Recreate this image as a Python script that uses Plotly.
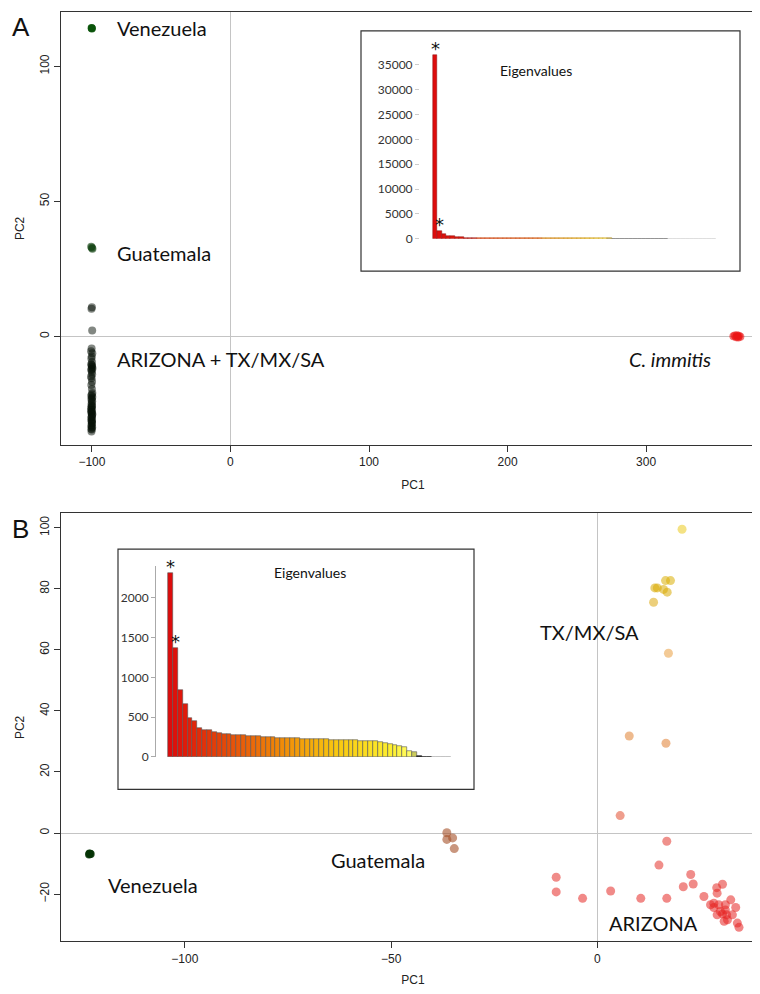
import plotly.graph_objects as go

# ---------------- Panel A data ----------------
a_ven_pc1 = [-100.0, -100.2]
a_ven_pc2 = [114.0, 114.2]
a_gua_pc1 = [-100.5, -99.6, -100.0]
a_gua_pc2 = [33.2, 32.4, 32.8]
a_ari_pc1 = [-100.0, -100.3, -99.8, -100.2, -100.6, -99.7, -100.1, -100.4, -99.9, -100.5,
             -100.0, -99.6, -100.3, -100.1, -99.8, -100.6, -100.2, -99.9, -100.4, -100.0,
             -99.7, -100.5, -100.1, -99.8, -100.3, -100.0, -100.6, -99.9, -100.2, -100.4,
             -99.7, -100.1, -100.5, -99.9, -100.2, -100.0, -100.4, -99.8, -100.1, -100.3,
             -100.2, -99.8, -100.4, -100.0, -99.7, -100.3, -100.1, -99.9, -100.5, -100.2,
             -99.8, -100.0, -100.3, -99.9, -100.1, -100.4]
a_ari_pc2 = [10.8, 10.2, 2.2, -4.5, -5.5, -6.3, -7.5, -8.2, -9.5, -10.3,
             -11.0, -11.9, -12.5, -13.1, -14.0, -14.9, -15.5, -16.8, -18.0, -19.5,
             -21.0, -22.0, -22.9, -24.0, -25.3, -26.0, -26.5, -27.0, -27.8, -28.3,
             -28.8, -29.5, -30.2, -31.0, -31.5, -32.3, -33.0, -33.8, -34.5, -35.2,
             -10.6, -11.4, -12.2, -21.5, -22.5, -23.5, -24.6, -25.8, -27.3, -28.0,
             -29.0, -30.0, -31.2, -32.0, -33.4, -34.2]
a_imm_pc1 = [363.0, 364.0, 365.0, 366.0, 367.0, 368.0, 365.5, 366.5]
a_imm_pc2 = [0.0, 0.3, -0.3, 0.0, 0.2, -0.2, 0.4, -0.4]

a_eig = [37000, 1500, 850, 600, 460, 340, 260, 210, 180, 160, 145, 135, 125, 118, 112, 106,
         100, 96, 92, 88, 85, 82, 79, 76, 73, 70, 68, 66, 64, 62, 60, 58, 56, 54, 52, 50,
         48, 46, 44, 42, 40, 6, 5, 5, 4, 4, 4, 3, 3, 3, 3, 2, 2, 2, 2, 2, 2, 1, 1, 1, 1, 1, 1, 1, 1]
a_yticks = [0, 5000, 10000, 15000, 20000, 25000, 30000, 35000]
a_yticktext = ["0", "5000", "10000", "15000", "20000", "25000", "30000", "35000"]

# ---------------- Panel B data ----------------
b_ven_pc1 = [-123.0, -123.2, -122.8, -123.1]
b_ven_pc2 = [-6.8, -7.0, -6.9, -6.7]
b_gua_pc1 = [-36.5, -36.5, -35.1, -34.7]
b_gua_pc2 = [0.1, -2.1, -1.6, -5.1]
b_tx_pc1 = [20.5, 17.7, 16.5, 13.9, 14.5, 16.0, 16.9, 13.6, 17.2, 7.7, 16.6, 5.5, 16.8]
b_tx_pc2 = [99.5, 82.7, 82.7, 80.3, 80.3, 79.8, 78.9, 75.6, 58.9, 31.8, 29.4, 5.7, -2.7]
b_az_pc1 = [14.9, 22.6, 20.8, 23.2, -3.6, 3.2, 10.5, 16.8, 25.8, 28.9, 30.3, 29.0, 27.4, 28.2,
            29.4, 29.8, 31.0, 32.3, 33.5, 32.7, 31.5, 30.3, 29.0, 30.7, 33.9, 34.3, 31.3, 31.0,
            28.2, -10.0, -10.0]
b_az_pc2 = [-10.5, -13.6, -17.6, -16.7, -21.4, -19.0, -21.4, -21.4, -20.8, -17.9, -16.8, -19.7,
            -23.5, -23.0, -23.5, -25.7, -25.2, -21.9, -24.4, -26.8, -28.4, -26.5, -26.8, -28.9,
            -29.5, -30.9, -26.8, -23.5, -24.4, -14.5, -19.3]

b_eig = [2310, 1375, 845, 670, 490, 450, 360, 345, 335, 312, 298, 290, 283, 278, 274, 270, 266,
         262, 258, 254, 250, 246, 243, 240, 237, 235, 232, 230, 228, 226, 224, 222, 220, 218,
         216, 214, 212, 210, 207, 204, 201, 198, 195, 190, 180, 165, 150, 135, 120, 80, 65,
         6, 4, 3, 2, 2, 1, 1]
b_yticks = [0, 500, 1000, 1500, 2000]

# ---------------- styling helpers ----------------
W, H = 760, 994
def px(x):
    return x / W
def py(y):
    return 1 - y / H

TICKFONT = dict(family="Liberation Sans Narrow, Liberation Sans, Arial", size=12, color="#222")
LBLFONT = dict(family="Lato, Open Sans, sans-serif", size=20, color="#111")
INSFONT = dict(family="Lato, Open Sans, sans-serif", size=12, color="#333")

fig = go.Figure()

# Panel A scatter
fig.add_trace(go.Scatter(x=a_ari_pc1, y=a_ari_pc2, mode="markers", xaxis="x", yaxis="y",
                         marker=dict(size=8, color="rgba(5,15,5,0.5)", line=dict(width=0))))
fig.add_trace(go.Scatter(x=a_gua_pc1, y=a_gua_pc2, mode="markers", xaxis="x", yaxis="y",
                         marker=dict(size=8, color="rgba(10,60,10,0.6)", line=dict(width=0))))
fig.add_trace(go.Scatter(x=a_ven_pc1, y=a_ven_pc2, mode="markers", xaxis="x", yaxis="y",
                         marker=dict(size=8, color="rgba(5,80,5,0.85)", line=dict(width=0))))
fig.add_trace(go.Scatter(x=a_imm_pc1, y=a_imm_pc2, mode="markers", xaxis="x", yaxis="y",
                         marker=dict(size=8, color="rgba(235,20,20,0.6)", line=dict(width=0))))

# Panel B scatter
b_col_scale = [[0.0, "#e62020"], [0.24, "#e23a30"], [0.3, "#e05a30"], [0.47, "#e08030"],
               [0.69, "#eaa040"], [0.85, "#d8aa00"], [1.0, "#eccc20"]]
fig.add_trace(go.Scatter(x=b_az_pc1, y=b_az_pc2, mode="markers", xaxis="x2", yaxis="y2",
                         marker=dict(size=9, color=b_az_pc2, colorscale=b_col_scale, cmin=-31, cmax=100,
                                     opacity=0.55, line=dict(width=0))))
fig.add_trace(go.Scatter(x=b_tx_pc1, y=b_tx_pc2, mode="markers", xaxis="x2", yaxis="y2",
                         marker=dict(size=9, color=b_tx_pc2, colorscale=b_col_scale, cmin=-31, cmax=100,
                                     opacity=0.55, line=dict(width=0))))
fig.add_trace(go.Scatter(x=b_gua_pc1, y=b_gua_pc2, mode="markers", xaxis="x2", yaxis="y2",
                         marker=dict(size=9, color="rgba(165,80,40,0.6)", line=dict(width=0))))
fig.add_trace(go.Scatter(x=b_ven_pc1, y=b_ven_pc2, mode="markers", xaxis="x2", yaxis="y2",
                         marker=dict(size=8, color="rgba(5,50,5,0.85)", line=dict(width=0))))

# Insets
heat_a = [[0.0, "#dd0c0c"], [0.1, "#e01a0a"], [0.3, "#e44a0a"], [0.45, "#f08a08"],
          [0.55, "#f8c810"], [0.62, "#ffff60"], [0.63, "#111111"], [0.82, "#111111"],
          [0.83, "#bbbbbb"], [1.0, "#bbbbbb"]]
a_line = (["#8a1010"] * 10 + ["#c05010"] * 15 + ["#c09020"] * 16 + ["#222222"] * 13
          + ["#bbbbbb"] * (len(a_eig) - 54))
fig.add_trace(go.Bar(x=list(range(len(a_eig))), y=a_eig, xaxis="x3", yaxis="y3",
                     marker=dict(color=list(range(len(a_eig))), colorscale=heat_a, cmin=0,
                                 cmax=len(a_eig) - 1, line=dict(color=a_line, width=0.5))))
heat_b = [[0.0, "#dd0c0c"], [0.05, "#e01a0a"], [0.2, "#e44a0a"], [0.4, "#f08a08"],
          [0.6, "#f8c810"], [0.8, "#fef030"], [0.875, "#ffff70"], [0.885, "#111111"],
          [0.93, "#111111"], [0.94, "#aaaaaa"], [1.0, "#aaaaaa"]]
b_line = ["#555555"] * 51 + ["#111111"] * 3 + ["#aaaaaa"] * (len(b_eig) - 54)
fig.add_trace(go.Bar(x=list(range(len(b_eig))), y=b_eig, xaxis="x4", yaxis="y4",
                     marker=dict(color=list(range(len(b_eig))), colorscale=heat_b, cmin=0,
                                 cmax=len(b_eig) - 1, line=dict(color=b_line, width=0.6))))

main_ax = dict(showline=True, linecolor="#333", linewidth=1, mirror=True, ticks="outside",
               ticklen=6, tickcolor="#333", showgrid=False, zeroline=True,
               zerolinecolor="#c4c4c4", zerolinewidth=1, tickfont=TICKFONT)
ttl = dict(family="Liberation Sans Narrow, Liberation Sans, Arial", size=12, color="#222")

ins_x = dict(showline=False, showticklabels=False, ticks="", showgrid=False, zeroline=False)
ins_y = dict(showline=True, linecolor="#aaaaaa", linewidth=1, ticks="outside", ticklen=4,
             tickcolor="#aaaaaa", showgrid=False, zeroline=False, tickfont=INSFONT)

fig.update_layout(
    width=W, height=H, margin=dict(l=0, r=0, t=0, b=0), showlegend=False,
    paper_bgcolor="white", plot_bgcolor="white", bargap=0,
    xaxis=dict(main_ax, domain=[px(53), px(757)], range=[-122.3, 385.8], anchor="y",
               tickvals=[-100, 0, 100, 200, 300], title=dict(text="PC1", font=ttl, standoff=12)),
    yaxis=dict(main_ax, domain=[py(440), py(4)], range=[-40.2, 120.1], anchor="x",
               tickvals=[0, 50, 100], tickangle=-90, title=dict(text="PC2", font=ttl, standoff=10)),
    xaxis2=dict(main_ax, domain=[px(53), px(757)], range=[-130, 40.6], anchor="y2",
                tickvals=[-100, -50, 0], title=dict(text="PC1", font=ttl, standoff=10)),
    yaxis2=dict(main_ax, domain=[py(940), py(509)], range=[-35.5, 104.7], anchor="x2",
                tickvals=[-20, 0, 20, 40, 60, 80, 100], tickangle=-90,
                title=dict(text="PC2", font=ttl, standoff=10)),
    xaxis3=dict(ins_x, domain=[px(412), px(712)], range=[-3.5, 65.4], anchor="y3"),
    yaxis3=dict(ins_y, domain=[py(232.3), py(42.3)], range=[0, 38000], anchor="x3",
                tickvals=a_yticks, ticktext=a_yticktext, showline=False, tickcolor="#cccccc"),
    xaxis4=dict(ins_x, domain=[px(148), px(446)], range=[-2.96, 58.1], anchor="y4"),
    yaxis4=dict(ins_y, domain=[py(754.3), py(562)], range=[0, 2400], anchor="x4",
                tickvals=b_yticks),
    shapes=[
        dict(type="rect", xref="paper", yref="paper", x0=px(353), x1=px(732), y0=py(265), y1=py(23),
             line=dict(color="#333", width=1.2), fillcolor="white", layer="below"),
        dict(type="rect", xref="paper", yref="paper", x0=px(110), x1=px(466), y0=py(787), y1=py(545),
             line=dict(color="#333", width=1.2), fillcolor="white", layer="below"),
    ],
)

ann = []
# panel letters
ann.append(dict(text="A", xref="paper", yref="paper", x=px(2), y=py(2), xanchor="left", yanchor="top",
                showarrow=False, font=dict(family="Liberation Sans, Arial", size=26, color="#111")))
ann.append(dict(text="B", xref="paper", yref="paper", x=px(2), y=py(508), xanchor="left", yanchor="top",
                showarrow=False, font=dict(family="Liberation Sans, Arial", size=26, color="#111")))
# panel A labels
for t, x, y in [("Venezuela", -83, 114), ("Guatemala", -83, 31), ("ARIZONA + TX/MX/SA", -83, -8.5)]:
    ann.append(dict(text=t, x=x, y=y, xref="x", yref="y", xanchor="left", yanchor="middle",
                    showarrow=False, font=LBLFONT))
ann.append(dict(text="<i>C. immitis</i>", x=348, y=-8.5, xref="x", yref="y", xanchor="right",
                yanchor="middle", showarrow=False, font=LBLFONT))
# panel B labels
for t, x, y in [("TX/MX/SA", -14.5, 66), ("Guatemala", -65, -8.8), ("Venezuela", -119, -17),
                ("ARIZONA", 2.4, -29.6)]:
    ann.append(dict(text=t, x=x, y=y, xref="x2", yref="y2", xanchor="left", yanchor="middle",
                    showarrow=False, font=LBLFONT))
# inset titles and asterisks
ann.append(dict(text="Eigenvalues", x=px(566), y=py(52), xref="paper", yref="paper", showarrow=False,
                font=dict(family="Lato, Open Sans, sans-serif", size=14, color="#111")))
ann.append(dict(text="Eigenvalues", x=px(302), y=py(568), xref="paper", yref="paper", showarrow=False,
                font=dict(family="Lato, Open Sans, sans-serif", size=14, color="#111")))
star = dict(family="DejaVu Sans", size=18, color="#111")
ann.append(dict(text="*", x=0, y=a_eig[0], xref="x3", yref="y3", yanchor="bottom", showarrow=False,
                font=star, yshift=-6))
ann.append(dict(text="*", x=1, y=a_eig[1], xref="x3", yref="y3", yanchor="bottom", showarrow=False,
                font=star, yshift=-6))
ann.append(dict(text="*", x=0, y=b_eig[0], xref="x4", yref="y4", yanchor="bottom", showarrow=False,
                font=star, yshift=-6))
ann.append(dict(text="*", x=1, y=b_eig[1], xref="x4", yref="y4", yanchor="bottom", showarrow=False,
                font=star, yshift=-6))
fig.update_layout(annotations=ann)

fig.write_html("out.html")
